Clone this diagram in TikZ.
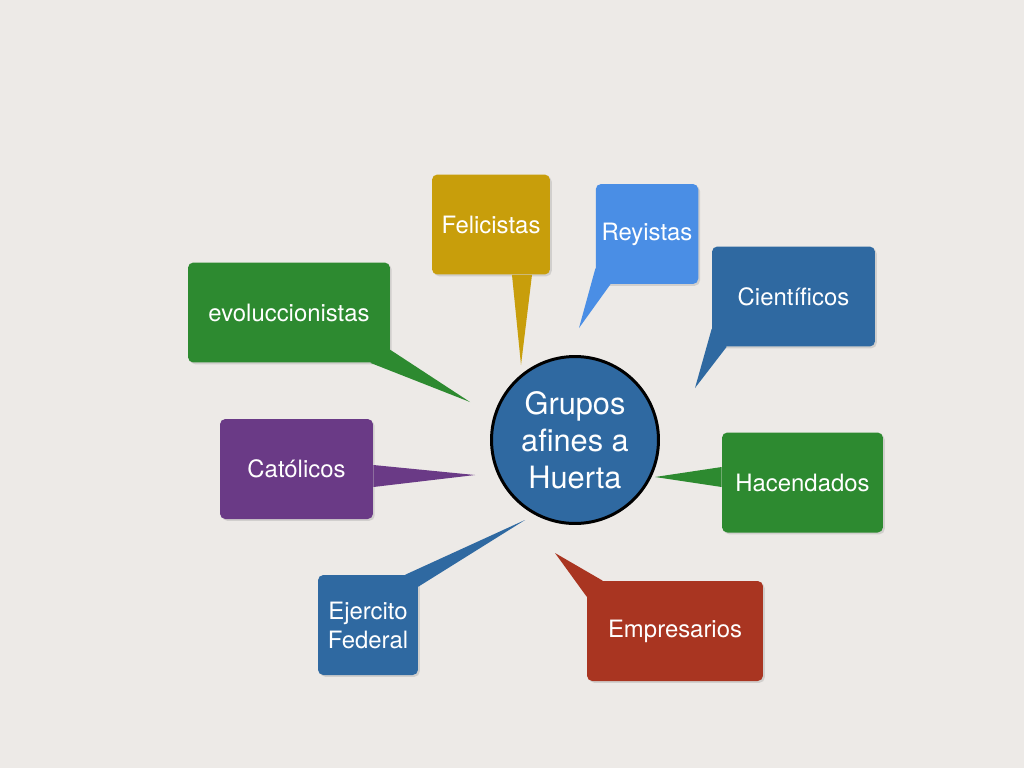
\documentclass[tikz,border=0pt]{standalone}
\usepackage{fontspec}
\setmainfont{TeX Gyre Heros}
\usetikzlibrary{shadows}

\definecolor{paper}{HTML}{EDEAE7}
\definecolor{grassgreen}{HTML}{2D8A30}
\definecolor{gold}{HTML}{C89E0B}
\definecolor{skyblue}{HTML}{4A8EE5}
\definecolor{steelblue}{HTML}{2F69A1}
\definecolor{plum}{HTML}{6A3A86}
\definecolor{brick}{HTML}{A93521}

\begin{document}
\begin{tikzpicture}[x=0.02cm, y=-0.02cm]
\tikzstyle{bubble} = [rectangle, rounded corners=3pt, minimum height=2cm, align=center, text=white, font=\fontsize{13.6}{16.5}\selectfont, drop shadow={shadow xshift=1pt, shadow yshift=-1pt, opacity=0.25}]
\tikzstyle{hub} = [circle, draw=black, line width=1.7pt, fill=steelblue, minimum size=3.34cm, align=center, text=white, font=\fontsize{17.5}{21}\selectfont]

% Background
\fill[paper] (0,0) rectangle (1024,768);
\useasboundingbox (0,0) rectangle (1024,768);

% Nodes
\node (evo) [bubble, fill=grassgreen, minimum width=4.04cm] at (289,312.5) {evoluccionistas};
\node (fel) [bubble, fill=gold, minimum width=2.36cm] at (491,224.5) {Felicistas};
\node (rey) [bubble, fill=skyblue, minimum width=2cm] at (647,234) {Reyistas};
\node (cie) [bubble, fill=steelblue, minimum width=3.26cm] at (793.5,296.5) {Científicos};
\node (hac) [bubble, fill=grassgreen, minimum width=3.22cm] at (802.5,482.5) {Hacendados};
\node (cat) [bubble, fill=plum, minimum width=3.06cm] at (296.5,469) {Católicos};
\node (eje) [bubble, fill=steelblue, minimum width=2cm] at (368,625) {Ejercito\\Federal};
\node (emp) [bubble, fill=brick, minimum width=3.52cm] at (675,631) {Empresarios};
\node (huerta) [hub] at (575,440) {Grupos\\afines a\\Huerta};

% Tail tips
\coordinate (evotip) at (470,402);
\coordinate (feltip) at (521,365);
\coordinate (reytip) at (579,328);
\coordinate (cietip) at (695,388);
\coordinate (hactip) at (655,477);
\coordinate (cattip) at (475,475);
\coordinate (ejetip) at (525,520);
\coordinate (emptip) at (555,553);

% Tails
\fill[grassgreen] ([xshift=-0.4cm]evo.south east) -- (evotip) -- ([yshift=0.26cm]evo.south east) -- cycle;
\fill[gold] ([xshift=0.42cm]fel.south) -- (feltip) -- ([xshift=0.82cm]fel.south) -- cycle;
\fill[skyblue] ([yshift=0.32cm]rey.south west) -- (reytip) -- ([xshift=0.3cm]rey.south west) -- cycle;
\fill[steelblue] ([yshift=0.36cm]cie.south west) -- (cietip) -- ([xshift=0.3cm]cie.south west) -- cycle;
\fill[grassgreen] ([yshift=0.31cm]hac.west) -- (hactip) -- ([yshift=-0.09cm]hac.west) -- cycle;
\fill[plum] ([yshift=0.08cm]cat.east) -- (cattip) -- ([yshift=-0.36cm]cat.east) -- cycle;
\fill[steelblue] ([xshift=-0.26cm]eje.north east) -- (ejetip) -- ([yshift=-0.24cm]eje.north east) -- cycle;
\fill[brick] ([xshift=0.32cm]emp.north west) -- (emptip) -- ([yshift=-0.32cm]emp.north west) -- cycle;

\end{tikzpicture}
\end{document}
